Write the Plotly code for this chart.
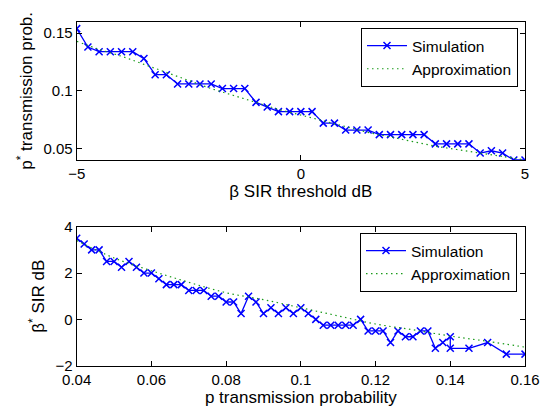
import plotly.graph_objects as go

# ---- Top panel data ----
beta_sim = [-5 + 0.25 * i for i in range(41)]
p_sim = [0.154, 0.138, 0.134, 0.134, 0.134, 0.134, 0.128, 0.114, 0.114, 0.106,
         0.106, 0.106, 0.106, 0.102, 0.102, 0.102, 0.090, 0.086, 0.082, 0.082,
         0.082, 0.082, 0.072, 0.072, 0.066, 0.066, 0.066, 0.062, 0.062, 0.062,
         0.062, 0.062, 0.054, 0.054, 0.054, 0.054, 0.046, 0.048, 0.046, 0.040,
         0.040]
beta_apx = [-5, -4.5, -4, -3.5, -3, -2.5, -2, -1.5, -1, -0.5, 0,
            0.5, 1, 1.5, 2, 2.5, 3, 3.5, 4, 4.5, 5]
p_apx = [0.143, 0.136, 0.130, 0.123, 0.116, 0.109, 0.102, 0.096, 0.090, 0.084, 0.079,
         0.074, 0.069, 0.064, 0.060, 0.056, 0.052, 0.049, 0.046, 0.043, 0.040]

# ---- Bottom panel data ----
p_sim2 = [round(0.04 + 0.002 * i, 3) for i in range(51)] + [0.14, 0.145, 0.15, 0.155, 0.16]
beta_sim2 = [3.5, 3.25, 3.0, 3.0, 2.5, 2.5, 2.25, 2.5, 2.25, 2.0,
             2.0, 1.75, 1.5, 1.5, 1.5, 1.25, 1.25, 1.25, 1.0, 1.0,
             0.75, 0.75, 0.25, 1.0, 0.75, 0.25, 0.5, 0.25, 0.5, 0.25,
             0.5, 0.25, 0.0, -0.25, -0.25, -0.25, -0.25, -0.25, 0.0, -0.5,
             -0.5, -0.5, -1.0, -0.5, -0.75, -0.75, -0.5, -0.5, -1.25, -1.0,
             -0.75,
             -1.25, -1.25, -1.0, -1.5, -1.5]
p_apx2 = [0.04, 0.05, 0.06, 0.07, 0.08, 0.09, 0.10, 0.11, 0.12, 0.13, 0.14, 0.15, 0.16]
beta_apx2 = [3.4, 2.65, 2.1, 1.6, 1.15, 0.85, 0.5, 0.15, -0.2, -0.45, -0.72, -0.95, -1.2]

FONT = "Liberation Sans, Arial, sans-serif"
BLUE = "#0000ff"
GREEN = "#1a9a1a"
DOTS = "1.5px,3.5px"

fig = go.Figure()
fig.add_trace(go.Scatter(x=beta_sim, y=p_sim, mode="lines+markers", name="Simulation",
                         line=dict(color=BLUE, width=1.3),
                         marker=dict(symbol="x-thin", size=7, line=dict(color=BLUE, width=1.5)),
                         xaxis="x", yaxis="y", legend="legend"))
fig.add_trace(go.Scatter(x=beta_apx, y=p_apx, mode="lines", name="Approximation",
                         line=dict(color=GREEN, width=1.2, dash=DOTS, shape="spline"),
                         xaxis="x", yaxis="y", legend="legend"))
fig.add_trace(go.Scatter(x=p_sim2, y=beta_sim2, mode="lines+markers", name="Simulation",
                         line=dict(color=BLUE, width=1.3),
                         marker=dict(symbol="x-thin", size=7, line=dict(color=BLUE, width=1.5)),
                         xaxis="x2", yaxis="y2", legend="legend2"))
fig.add_trace(go.Scatter(x=p_apx2, y=beta_apx2, mode="lines", name="Approximation",
                         line=dict(color=GREEN, width=1.2, dash=DOTS, shape="spline"),
                         xaxis="x2", yaxis="y2", legend="legend2"))

axis_common = dict(showline=True, linecolor="black", linewidth=1, mirror="ticks",
                   ticks="inside", ticklen=5, tickcolor="black", showgrid=False,
                   zeroline=False, automargin=False,
                   tickfont=dict(size=15, color="black", family=FONT))

W, H = 553, 414
xd = [76.7 / W, 525 / W]
fig.update_layout(
    width=W, height=H,
    margin=dict(l=0, r=0, t=0, b=0, pad=0, autoexpand=False),
    paper_bgcolor="white", plot_bgcolor="white",
    font=dict(family=FONT, color="black", size=15),
    xaxis=dict(domain=xd, anchor="y", range=[-5, 5], tickvals=[-5, 0, 5],
               title=dict(text="β SIR threshold dB", font=dict(size=17), standoff=0),
               **axis_common),
    yaxis=dict(domain=[1 - 160 / H, 1 - 21.7 / H], anchor="x", range=[0.04, 0.16],
               tickvals=[0.05, 0.1, 0.15], ticktext=["0.05", "0.1", "0.15"],
               title=dict(text="p<sup>*</sup> transmission prob.", font=dict(size=17), standoff=6),
               **axis_common),
    xaxis2=dict(domain=xd, anchor="y2", range=[0.04, 0.16],
                tickvals=[0.04, 0.06, 0.08, 0.1, 0.12, 0.14, 0.16],
                ticktext=["0.04", "0.06", "0.08", "0.1", "0.12", "0.14", "0.16"],
                title=dict(text="p transmission probability", font=dict(size=17), standoff=0),
                **axis_common),
    yaxis2=dict(domain=[1 - 365.7 / H, 1 - 226.7 / H], anchor="x2", range=[-2, 4],
                tickvals=[-2, 0, 2, 4],
                title=dict(text="β<sup>*</sup> SIR dB", font=dict(size=17), standoff=6),
                **axis_common),
    legend=dict(x=518 / W, y=1 - 28 / H, xanchor="right", yanchor="top",
                bgcolor="white", bordercolor="black", borderwidth=1,
                font=dict(size=15.5, family=FONT), tracegroupgap=0, itemwidth=40),
    legend2=dict(x=517 / W, y=1 - 233 / H, xanchor="right", yanchor="top",
                 bgcolor="white", bordercolor="black", borderwidth=1,
                 font=dict(size=15.5, family=FONT), tracegroupgap=0, itemwidth=40),
    showlegend=True,
)

fig.write_html("out.html", config={"displayModeBar": False},
               post_script="document.body.style.margin='0';document.body.style.padding='0';")
